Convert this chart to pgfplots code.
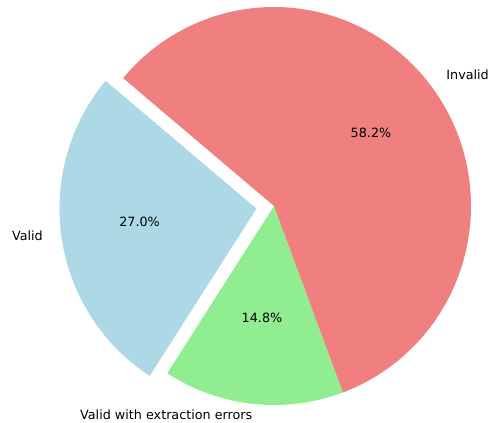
\documentclass[border=0pt]{standalone}
\usepackage{pgfplots}
\pgfplotsset{compat=1.18}
\usepackage{fontspec}
\setmainfont{DejaVu Sans}
\definecolor{lblue}{RGB}{173,216,230}
\definecolor{lgreen}{RGB}{144,238,144}
\definecolor{lcoral}{RGB}{240,128,128}
% data (percent shares)
\def\vValid{27.0}
\def\vErr{14.8}
\def\vInvalid{58.2}
% geometry (pixel units, y up)
\pgfmathsetmacro{\cx}{274}
\pgfmathsetmacro{\cy}{217}
\pgfmathsetmacro{\rx}{197}
\pgfmathsetmacro{\ry}{199}
\pgfmathsetmacro{\sA}{140}
\pgfmathsetmacro{\eA}{\sA+3.6*\vValid}
\pgfmathsetmacro{\eB}{\eA+3.6*\vErr}
\pgfmathsetmacro{\eC}{\eB+3.6*\vInvalid}
\pgfmathsetmacro{\mA}{(\sA+\eA)/2}
\pgfmathsetmacro{\bx}{\cx+0.09*\rx*cos(\mA)}
\pgfmathsetmacro{\by}{\cy+0.09*\ry*sin(\mA)}
\newcommand{\lf}{\fontsize{12.8}{15}\selectfont}
\begin{document}
\begin{tikzpicture}
\useasboundingbox (0,0) rectangle (490bp,423bp);
\clip (0,0) rectangle (490bp,423bp);
\begin{axis}[
  at={(0,0)}, anchor=south west,
  scale only axis, width=490bp, height=423bp,
  xmin=0, xmax=490, ymin=0, ymax=423,
  hide axis, clip=false,
]
\addplot[draw=none, fill=lblue, domain=\sA:\eA, samples=90, variable=\t]
  ({\bx+\rx*cos(\t)}, {\by+\ry*sin(\t)}) -- (axis cs:\bx,\by) -- cycle;
\addplot[draw=none, fill=lgreen, domain=\eA:\eB, samples=60, variable=\t]
  ({\cx+\rx*cos(\t)}, {\cy+\ry*sin(\t)}) -- (axis cs:\cx,\cy) -- cycle;
\addplot[draw=none, fill=lcoral, domain=\eB:\eC, samples=180, variable=\t]
  ({\cx+\rx*cos(\t)}, {\cy+\ry*sin(\t)}) -- (axis cs:\cx,\cy) -- cycle;
% outer labels
\node[anchor=base east, inner sep=0pt, font=\lf] at (axis cs:43,182) {Valid};
\node[anchor=base east, inner sep=0pt, font=\lf] at (axis cs:252.5,3.7) {Valid with extraction errors};
\node[anchor=base east, inner sep=0pt, font=\lf] at (axis cs:489,343) {Invalid};
% percentage labels
\node[anchor=center, inner sep=0pt, font=\lf] at (axis cs:139.6,201) {27.0\%};
\node[anchor=center, inner sep=0pt, font=\lf] at (axis cs:262,105) {14.8\%};
\node[anchor=center, inner sep=0pt, font=\lf] at (axis cs:371,290) {58.2\%};
\end{axis}
\end{tikzpicture}
\end{document}
